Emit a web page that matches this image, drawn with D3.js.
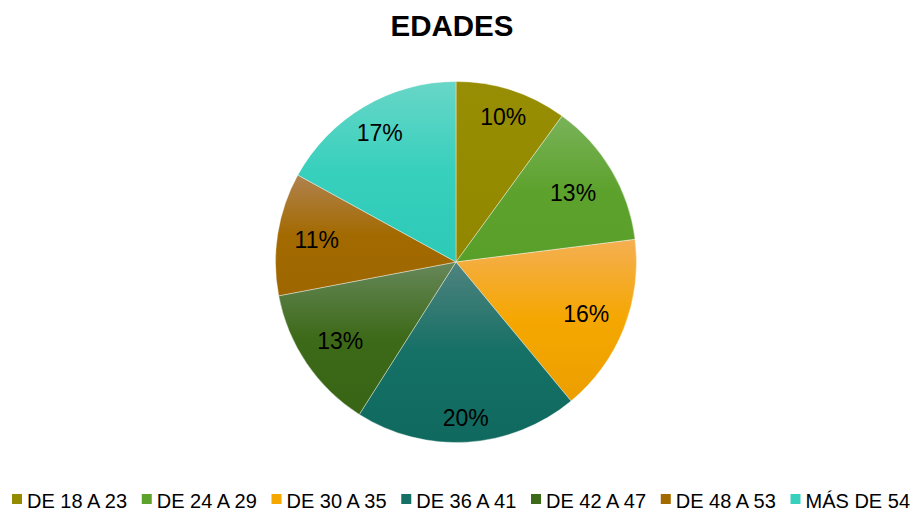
<!DOCTYPE html>
<html><head><meta charset="utf-8">
<script src="https://cdn.jsdelivr.net/npm/d3@7"></script>
<style>body{margin:0;background:#fff}svg{display:block}</style>
</head><body>
<svg id="c" width="911" height="511"></svg>
<script>
const title = "EDADES";
const categories = ["DE 18 A 23","DE 24 A 29","DE 30 A 35","DE 36 A 41","DE 42 A 47","DE 48 A 53","MÁS DE 54"];
const values = [10, 13, 16, 20, 13, 11, 17];
const labels = ["10%","13%","16%","20%","13%","11%","17%"];
const baseColors = ["#958B00","#5EA22E","#F5A700","#157065","#3D6A18","#A36A00","#37D0BD"];
const topColors  = ["#988E05","#79B359","#F4AF52","#50837F","#67875A","#B0824F","#68D6C7"];
const botColors  = ["#918700","#589F28","#EC9E00","#0F695E","#386515","#9D6600","#2DCAB7"];
const labelRadius = [153, 136, 140, 156, 140, 141, 150];

const svg = d3.select("#c");
const cx = 456, cy = 262, R = 180.5;
const font = "'Liberation Sans', Arial, sans-serif";

svg.append("text").attr("x", 452).attr("y", 36).attr("text-anchor","middle")
  .attr("font-family", font).attr("font-weight","bold").attr("font-size", 29.5)
  .attr("fill","#000").text(title);

const defs = svg.append("defs");
categories.forEach((c,i)=>{
  const g = defs.append("linearGradient").attr("id","g"+i)
    .attr("x1",0).attr("y1",0).attr("x2",0).attr("y2",1);
  g.append("stop").attr("offset","0%").attr("stop-color",topColors[i]);
  g.append("stop").attr("offset","50%").attr("stop-color",baseColors[i]);
  g.append("stop").attr("offset","100%").attr("stop-color",botColors[i]);
});

const pie = d3.pie().sort(null).value(d=>d);
const arcs = pie(values);
const arc = d3.arc().innerRadius(0).outerRadius(R);
const gp = svg.append("g").attr("transform",`translate(${cx},${cy})`);
gp.selectAll("path").data(arcs).enter().append("path")
  .attr("d",arc).attr("fill",(d,i)=>`url(#g${i})`)
  .attr("stroke","rgba(255,255,255,0.55)").attr("stroke-width",0.7);

gp.selectAll("text.l").data(arcs).enter().append("text").attr("class","l")
  .attr("transform",(d,i)=>{
    const a = (d.startAngle+d.endAngle)/2;
    return `translate(${labelRadius[i]*Math.sin(a)},${-labelRadius[i]*Math.cos(a)})`;
  })
  .attr("text-anchor","middle").attr("dy","0.36em")
  .attr("font-family",font).attr("font-size",23).attr("fill","#000")
  .text((d,i)=>labels[i]);

// legend
const lg = svg.append("g");
const fs = 20, sq = 10, gapT = 5;
const items = lg.selectAll("g").data(categories).enter().append("g");
items.append("rect").attr("width",sq).attr("height",sq).attr("y",-14)
  .attr("fill",(d,i)=>baseColors[i]);
const texts = items.append("text").attr("x",sq+gapT).attr("y",0)
  .attr("font-family",font).attr("font-size",fs).attr("fill","#000").text(d=>d);
let widths = [];
texts.each(function(){ widths.push(this.getComputedTextLength()); });
const left = 12, right = 910;
const sumItems = widths.reduce((a,w)=>a+sq+gapT+w,0);
const gapI = Math.max(4, (right-left-sumItems)/(widths.length-1));
let x = left;
items.attr("transform",(d,i)=>{ const t=`translate(${x},508)`; x += sq+gapT+widths[i]+gapI; return t; });
</script>
</body></html>
